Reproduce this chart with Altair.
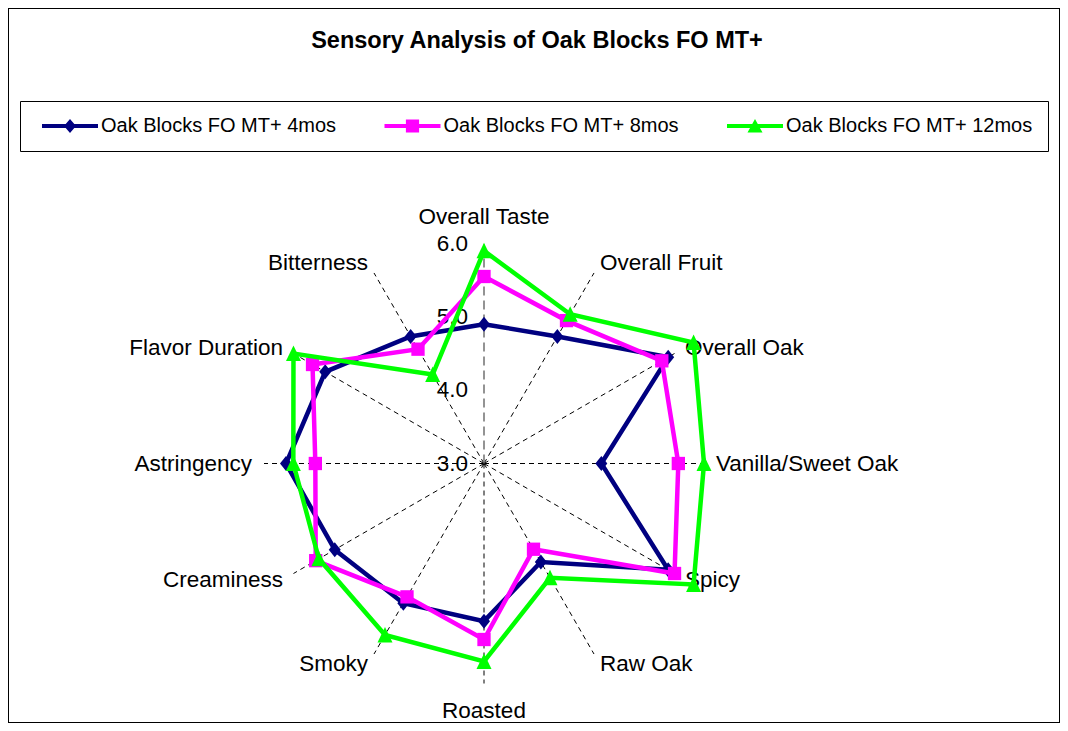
import altair as alt
import pandas as pd

# ---------------- data ----------------
categories = ["Overall Taste", "Overall Fruit", "Overall Oak", "Vanilla/Sweet Oak",
              "Spicy", "Raw Oak", "Roasted", "Smoky", "Creaminess", "Astringency",
              "Flavor Duration", "Bitterness"]
series_names = ["Oak Blocks FO MT+ 4mos", "Oak Blocks FO MT+ 8mos", "Oak Blocks FO MT+ 12mos"]
values_4mos = [4.9, 5.0, 5.9, 4.6, 5.9, 4.55, 5.15, 5.2, 5.35, 5.7, 5.5, 5.0]
values_8mos = [5.55, 5.25, 5.8, 5.65, 6.0, 4.35, 5.4, 5.1, 5.65, 5.3, 5.7, 4.8]
values_12mos = [5.9, 5.35, 6.3, 6.0, 6.3, 4.8, 5.7, 5.7, 5.6, 5.6, 6.0, 4.4]
axis_ticks = [3.0, 4.0, 5.0, 6.0]
series_colors = ["#000080", "#FF00FF", "#00FF00"]
title_text = "Sensory Analysis of Oak Blocks FO MT+"

# ---------------- layout / style ----------------
R0, R1 = 3.0, 6.0
N = len(categories)
W, H = 1052, 715
CX, CY = 476, 455.5
PX = 220 / (R1 - R0)
FONT = "Liberation Sans, Arial, sans-serif"

xs = alt.Scale(domain=[-CX / PX, (W - CX) / PX], nice=False, zero=False)
ys = alt.Scale(domain=[-(H - CY) / PX, CY / PX], nice=False, zero=False)


def X(f):
    return alt.X(f, type="quantitative", scale=xs, axis=None)


def Y(f):
    return alt.Y(f, type="quantitative", scale=ys, axis=None)


ANG = f"datum.idx * 2 * PI / {N}"

rows = []
for name, vals in zip(series_names, [values_4mos, values_8mos, values_12mos]):
    for i in range(N + 1):
        rows.append({"series": name, "idx": i, "category": categories[i % N],
                     "value": vals[i % N]})
df = pd.DataFrame(rows)
cat_df = pd.DataFrame({"category": categories, "idx": list(range(N))})
tick_df = pd.DataFrame({"tick": axis_ticks})

# spokes
spokes = alt.Chart(cat_df).transform_calculate(
    x0="0", y0="0",
    x1=f"{R1 - R0} * sin({ANG})", y1=f"{R1 - R0} * cos({ANG})")
spoke_grid = spokes.transform_filter("datum.idx > 0").mark_rule(
    color="black", strokeWidth=1, strokeDash=[5, 4]).encode(
    x=X("x0"), y=Y("y0"), x2="x1", y2="y1")
spoke_axis = spokes.transform_filter("datum.idx == 0").mark_rule(
    color="#707070", strokeWidth=1.5, strokeDash=[9, 5]).encode(
    x=X("x0"), y=Y("y0"), x2="x1", y2="y1")

# category labels
GAP_SIDE = 12 / PX
GAP_TB = 27 / PX
lab = alt.Chart(cat_df).transform_calculate(
    lr=f"datum.idx % 6 == 0 ? {R1 - R0 + GAP_TB} : {R1 - R0 + GAP_SIDE}",
    lx=f"datum.lr * sin({ANG})", ly=f"datum.lr * cos({ANG})")
lab_kw = dict(baseline="middle", fontSize=22.5, font=FONT, color="black")
lab_right = lab.transform_filter("datum.idx > 0 && datum.idx < 6").mark_text(
    align="left", **lab_kw).encode(x=X("lx"), y=Y("ly"), text="category:N")
lab_left = lab.transform_filter("datum.idx > 6").mark_text(
    align="right", **lab_kw).encode(x=X("lx"), y=Y("ly"), text="category:N")
lab_tb = lab.transform_filter("datum.idx % 6 == 0").mark_text(
    align="center", **lab_kw).encode(x=X("lx"), y=Y("ly"), text="category:N")

# radial value labels
ticks = alt.Chart(tick_df).transform_calculate(
    tx="0", ty=f"datum.tick - {R0}").mark_text(
    align="right", baseline="middle", dx=-16, fontSize=22.5, font=FONT,
    color="black").encode(x=X("tx"), y=Y("ty"),
                          text=alt.Text("tick:Q", format=".1f"))

# series
base = alt.Chart(df).transform_calculate(
    u=f"datum.value - {R0}",
    px=f"datum.u * sin({ANG})",
    py=f"datum.u * cos({ANG})")

marker_shapes = ["M0,-1.25L1,0L0,1.25L-1,0Z", "square", "M0,-1.07L1,1L-1,1Z"]
marker_sizes = [144, 177, 225]
# legend symbols: a thick line with the series marker on it (filled paths)
legend_paths = [
    "M-4.667,-0.333H4.667V0.333H-4.667Z M0,-1.17L1,0L0,1.17L-1,0Z",
    "M-4.667,-0.333H4.667V0.333H-4.667Z M-1.1,-1.1H1.1V1.1H-1.1Z",
    "M-4.667,-0.333H4.667V0.333H-4.667Z M0,-1.17L1.25,1.1H-1.25Z",
]

series_layers = []
for name, col, shp, sz in zip(series_names, series_colors, marker_shapes, marker_sizes):
    s = base.transform_filter(alt.datum.series == name)
    line = s.mark_line(color=col, strokeWidth=4.5, strokeJoin="miter").encode(
        x=X("px"), y=Y("py"), order="idx:Q")
    pts = s.transform_filter(f"datum.idx < {N}").mark_point(
        shape=shp, size=sz, filled=True, opacity=1, strokeWidth=0,
        color=col).encode(x=X("px"), y=Y("py"))
    series_layers += [line, pts]

leg = alt.Legend(
    title=None, orient="none", legendX=12, legendY=93, direction="horizontal",
    columns=3, gridAlign="all", columnPadding=29.5, padding=15,
    strokeColor="black", fillColor="white",
    symbolSize=144, symbolStrokeWidth=0, symbolOffset=25, symbolOpacity=1,
    labelOffset=21, labelFontSize=20, labelFont=FONT, labelColor="black",
    labelLimit=600, labelBaseline="middle")

legend_layer = base.transform_filter(f"datum.idx < {N}").mark_point(
    opacity=0, filled=True).encode(
    x=X("px"), y=Y("py"),
    color=alt.Color("series:N", scale=alt.Scale(domain=series_names, range=series_colors),
                    legend=leg),
    shape=alt.Shape("series:N", scale=alt.Scale(domain=series_names, range=legend_paths),
                    legend=leg))

chart = alt.layer(
    spoke_grid, spoke_axis, ticks, lab_right, lab_left, lab_tb,
    *series_layers, legend_layer
).properties(
    width=W, height=H, padding=0,
    autosize=alt.AutoSizeParams(type="none"),
    title=alt.TitleParams(text=title_text, fontSize=23.5, fontWeight="bold",
                          font=FONT, color="black", anchor="middle",
                          offset=-44, dx=3),
    background="white",
).configure_view(stroke="black", strokeWidth=2)

chart.save("out.html", embed_options={"renderer": "svg", "actions": False})
